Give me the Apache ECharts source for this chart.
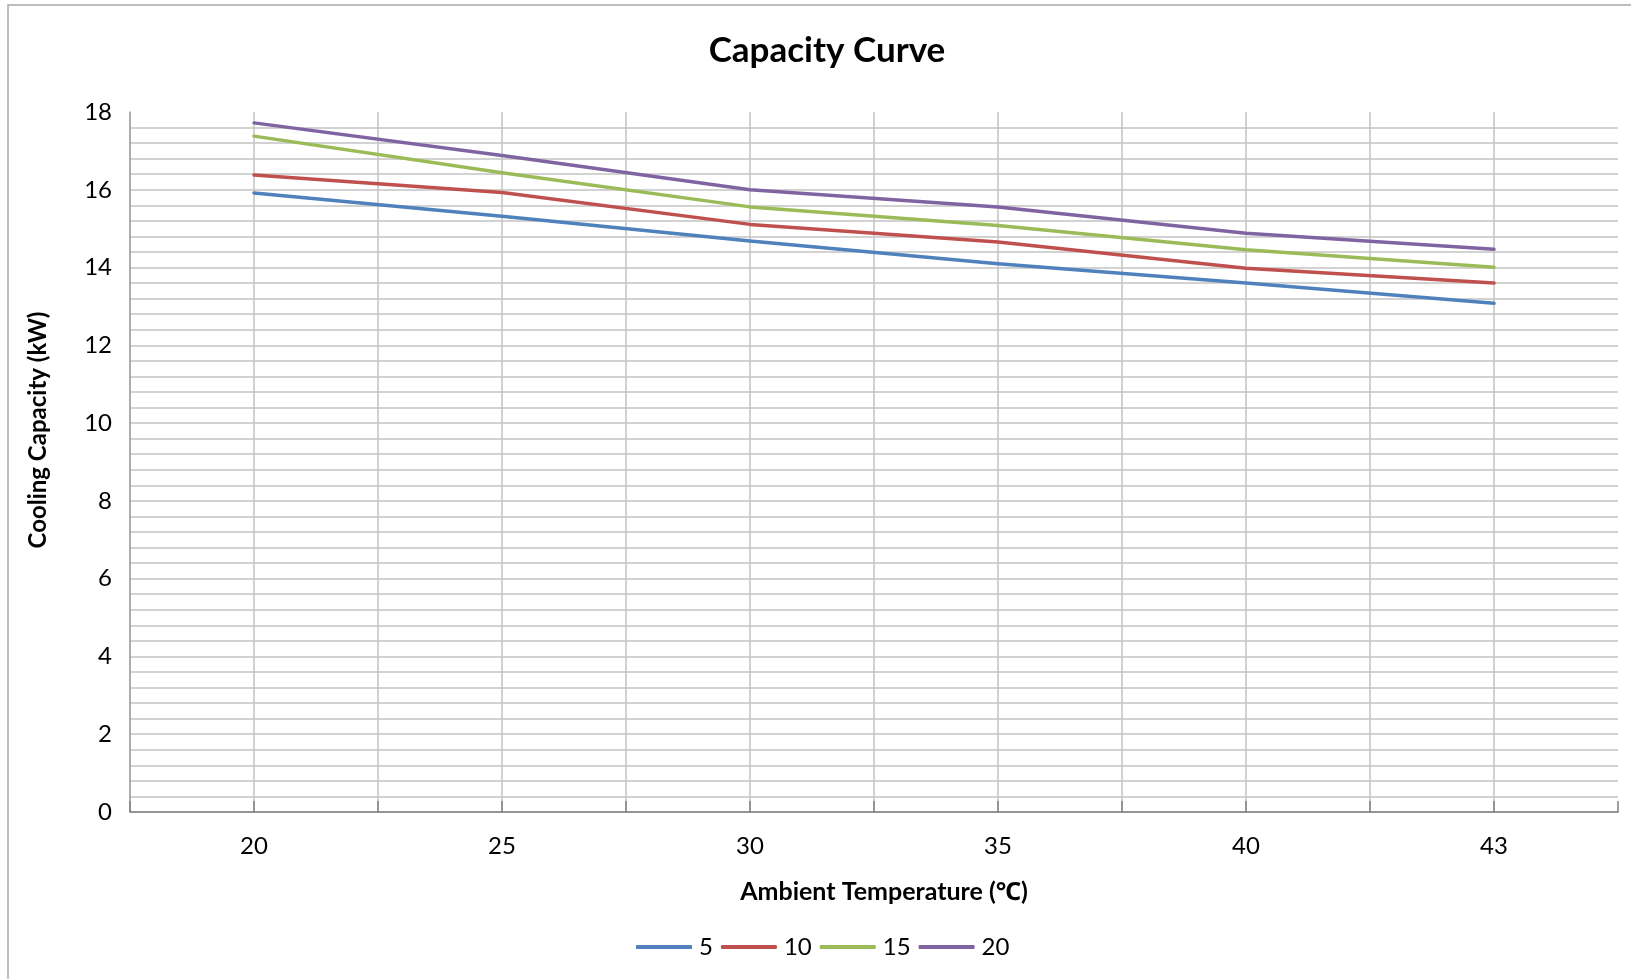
<!DOCTYPE html>
<html>
<head>
<meta charset="utf-8">
<script src="https://cdn.jsdelivr.net/npm/echarts@6/dist/echarts.min.js"></script>
<style>
html,body{margin:0;padding:0;background:#fff;}
#chart{width:1631px;height:979px;}
</style>
</head>
<body>
<div id="chart"></div>
<script>
var temps = ['20', '25', '30', '35', '40', '43'];
var seriesNames = ['5', '10', '15', '20'];
var s5  = [15.92, 15.32, 14.68, 14.10, 13.60, 13.08];
var s10 = [16.38, 15.93, 15.11, 14.66, 13.98, 13.60];
var s15 = [17.38, 16.44, 15.56, 15.08, 14.46, 14.01];
var s20 = [17.72, 16.88, 16.00, 15.56, 14.88, 14.47];
var colors = ['#4f81bd', '#c0504d', '#9bbb59', '#8064a2'];

var FONT = 'Lato, "Noto Sans", sans-serif';
var chart = echarts.init(document.getElementById('chart'));

var ySplitColors = [];
for (var i = 0; i < 9; i++) ySplitColors.push('#c3c3c3');
ySplitColors.push('rgba(0,0,0,0)');
var xSplitColors = [];
for (var j = 0; j < 12; j++) xSplitColors.push('#c3c3c3');
xSplitColors.push('rgba(0,0,0,0)');

var data = [s5, s10, s15, s20];
var series = data.map(function (d, k) {
  return {
    name: seriesNames[k],
    type: 'line',
    xAxisIndex: 0,
    data: d,
    symbol: 'none',
    smooth: false,
    lineStyle: { color: colors[k], width: 3.5, cap: 'round', join: 'round' },
    itemStyle: { color: colors[k] },
    z: 5 + k
  };
});

chart.setOption({
  animation: false,
  backgroundColor: '#fff',
  graphic: [{
    type: 'rect',
    shape: { x: 8, y: 5, width: 1700, height: 1100 },
    style: { fill: 'none', stroke: '#a8a8a8', lineWidth: 1.5 },
    silent: true
  }],
  title: {
    text: 'Capacity Curve',
    left: 822,
    textAlign: 'center',
    top: 28,
    textStyle: { fontFamily: FONT, fontWeight: 'bold', fontSize: 35, color: '#000' }
  },
  legend: {
    data: seriesNames.map(function (n, k) {
      return { name: n, icon: 'roundRect', itemStyle: { color: colors[k] } };
    }),
    left: 631,
    top: 930,
    itemWidth: 56,
    itemHeight: 4,
    itemGap: 8,
    textStyle: { fontFamily: FONT, fontSize: 24, color: '#000', lineHeight: 24, padding: [0, 0, 0, 2] }
  },
  grid: { left: 130, right: 13, top: 112, bottom: 167, containLabel: false },
  xAxis: [{
    type: 'category',
    data: temps,
    boundaryGap: true,
    name: 'Ambient Temperature (℃)',
    nameLocation: 'middle',
    nameGap: 67,
    nameTextStyle: { fontFamily: FONT, fontWeight: 'bold', fontSize: 25, color: '#000', padding: [0, 0, 0, 20] },
    axisLine: { show: true, lineStyle: { color: '#808080', width: 1.5 } },
    axisTick: { show: false },
    splitLine: { show: false },
    axisLabel: { fontFamily: FONT, fontSize: 24, color: '#000', margin: 22 },
    z: 3
  }, {
    type: 'value',
    min: 0,
    max: 12,
    interval: 1,
    position: 'bottom',
    axisLine: { show: false },
    axisLabel: { show: false },
    axisTick: { show: true, inside: true, length: 11, lineStyle: { color: '#808080', width: 1.5 } },
    splitLine: { show: true, lineStyle: { color: xSplitColors, width: 1.5 } }
  }],
  yAxis: {
    type: 'value',
    min: 0,
    max: 18,
    interval: 2,
    name: 'Cooling Capacity (kW)',
    nameLocation: 'middle',
    nameRotate: 90,
    nameGap: 80,
    nameTextStyle: { fontFamily: FONT, fontWeight: 'bold', fontSize: 24, color: '#000', padding: [0, 0, 0, 64] },
    axisLine: { show: true, lineStyle: { color: '#a0a0a0', width: 1.5 } },
    axisTick: { show: false },
    axisLabel: { fontFamily: FONT, fontSize: 24, color: '#000', margin: 18 },
    splitLine: { show: true, lineStyle: { color: ySplitColors, width: 1.5 } },
    minorTick: { show: false, splitNumber: 5 },
    minorSplitLine: { show: true, lineStyle: { color: '#c3c3c3', width: 1.5 } }
  },
  series: series
});
</script>
</body>
</html>
